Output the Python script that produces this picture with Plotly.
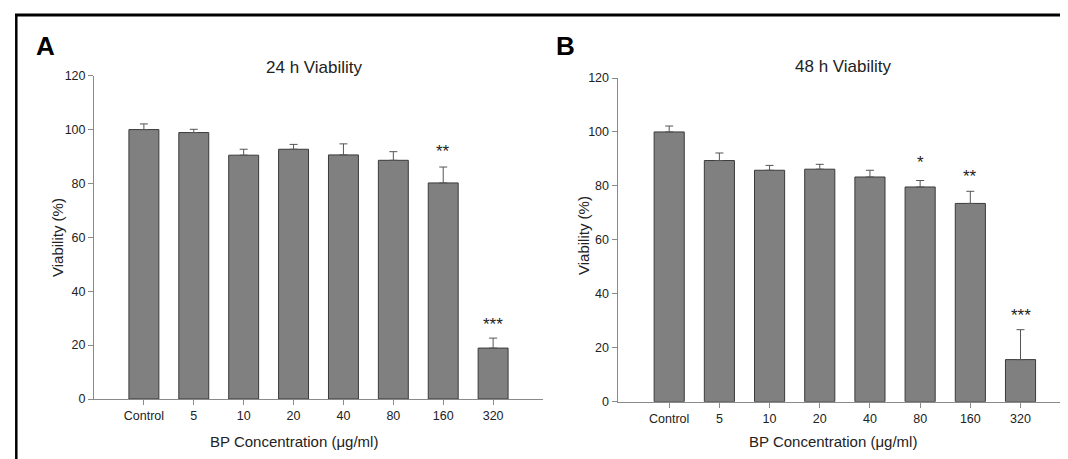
import plotly.graph_objects as go

# ---------------- data ----------------
categories = ["Control", "5", "10", "20", "40", "80", "160", "320"]

viab_24h = [100.0, 98.9, 90.5, 92.7, 90.6, 88.6, 80.2, 18.9]
err_24h = [2.1, 1.2, 2.2, 1.8, 4.1, 3.2, 5.9, 3.7]
stars_24h = ["", "", "", "", "", "", "**", "***"]
stars_24h_y = [None, None, None, None, None, None, 93.2, 29.2]

viab_48h = [100.0, 89.4, 85.8, 86.2, 83.3, 79.6, 73.5, 15.6]
err_48h = [2.2, 2.8, 1.8, 1.8, 2.5, 2.4, 4.5, 11.1]
stars_48h = ["", "", "", "", "", "*", "**", "***"]
stars_48h_y = [None, None, None, None, None, 90.3, 84.8, 33.5]

y_ticks = [0, 20, 40, 60, 80, 100, 120]
panel_titles = ["24 h Viability", "48 h Viability"]
panel_letters = ["A", "B"]
x_title = "BP Concentration (\u03bcg/ml)"
y_title = "Viability (%)"

# ---------------- figure ----------------
W, H = 1068, 459
FONT = "Liberation Sans, Arial, sans-serif"
BAR_FILL = "#808080"
BAR_LINE = "#3a3a3a"
AXIS_COL = "#8a8a8a"
TXT = "#222222"

fig = go.Figure()

def px_x(p):
    return p / W

def px_y(p):
    return 1 - p / H

panels = [
    dict(vals=viab_24h, errs=err_24h, stars=stars_24h, stars_y=stars_24h_y,
         xa="x", ya="y", xdom=[86, 535], ydom=[67.7, 391], xr=[-1.0, 8.0],
         title_x=306, title_y=60, xt_x=286, xt_y=433, yt_x=50, yt_y=230,
         let_x=37, let_y=38),
    dict(vals=viab_48h, errs=err_48h, stars=stars_48h, stars_y=stars_48h_y,
         xa="x2", ya="y2", xdom=[609.5, 1062.7], ydom=[70, 393.7], xr=[-1.03, 8.0],
         title_x=835, title_y=58, xt_x=825, xt_y=433, yt_x=575, yt_y=228,
         let_x=557, let_y=38),
]

annotations = []
for i, p in enumerate(panels):
    fig.add_trace(go.Bar(
        x=categories, y=p["vals"], xaxis=p["xa"], yaxis=p["ya"],
        width=0.6,
        marker=dict(color=BAR_FILL, line=dict(color=BAR_LINE, width=1)),
        error_y=dict(type="data", array=p["errs"], arrayminus=[0] * len(p["errs"]),
                     symmetric=False, color="#555555", thickness=1, width=4),
        showlegend=False, hoverinfo="x+y",
    ))
    ax_suffix = "" if i == 0 else "2"
    fig.update_layout(**{
        "xaxis" + ax_suffix: dict(
            domain=[px_x(p["xdom"][0]), px_x(p["xdom"][1])],
            anchor="y" + ax_suffix, type="category", range=p["xr"],
            showline=True, linecolor=AXIS_COL, linewidth=1,
            ticks="outside", ticklen=5, tickcolor=AXIS_COL, tickwidth=1,
            showgrid=False, zeroline=False,
            tickfont=dict(family=FONT, size=12.5, color=TXT),
            automargin=False, fixedrange=True,
        ),
        "yaxis" + ax_suffix: dict(
            domain=[px_y(p["ydom"][1]), px_y(p["ydom"][0])],
            anchor="x" + ax_suffix, range=[0, 120],
            tickvals=y_ticks,
            showline=True, linecolor=AXIS_COL, linewidth=1,
            ticks="outside", ticklen=5, tickcolor=AXIS_COL, tickwidth=1,
            showgrid=False, zeroline=False,
            tickfont=dict(family=FONT, size=12.5, color=TXT),
            automargin=False, fixedrange=True,
        ),
    })
    # stars (x given as category index)
    for idx, (s, sy) in enumerate(zip(p["stars"], p["stars_y"])):
        if s:
            annotations.append(dict(
                x=idx, y=sy, xref=p["xa"], yref=p["ya"], text=s, showarrow=False,
                xanchor="center", yanchor="middle", yshift=-4,
                font=dict(family=FONT, size=17, color=TXT),
            ))
    # title
    annotations.append(dict(
        x=px_x(p["title_x"]), y=px_y(p["title_y"]), xref="paper", yref="paper",
        text=panel_titles[i], showarrow=False, xanchor="center", yanchor="middle",
        font=dict(family=FONT, size=17, color=TXT),
    ))
    # x title
    annotations.append(dict(
        x=px_x(p["xt_x"]), y=px_y(p["xt_y"]), xref="paper", yref="paper",
        text=x_title, showarrow=False, xanchor="center", yanchor="middle",
        font=dict(family=FONT, size=15, color=TXT),
    ))
    # y title
    annotations.append(dict(
        x=px_x(p["yt_x"]), y=px_y(p["yt_y"]), xref="paper", yref="paper",
        text=y_title, showarrow=False, xanchor="center", yanchor="middle",
        textangle=-90, font=dict(family=FONT, size=15, color=TXT),
    ))
    # panel letter
    annotations.append(dict(
        x=px_x(p["let_x"]), y=px_y(p["let_y"]), xref="paper", yref="paper",
        text="<b>%s</b>" % panel_letters[i], showarrow=False,
        xanchor="center", yanchor="middle",
        font=dict(family=FONT, size=26, color="#000000"),
    ))

shapes = [
    dict(type="line", xref="paper", yref="paper",
         x0=px_x(7), x1=1.0, y0=px_y(7), y1=px_y(7),
         line=dict(color="#000000", width=3)),
    dict(type="line", xref="paper", yref="paper",
         x0=px_x(8.3), x1=px_x(8.3), y0=px_y(6), y1=0.0,
         line=dict(color="#000000", width=2.5)),
]

fig.update_layout(
    width=W, height=H,
    margin=dict(l=0, r=0, t=0, b=0),
    paper_bgcolor="white", plot_bgcolor="white",
    annotations=annotations, shapes=shapes,
    bargap=0.4, showlegend=False,
    font=dict(family=FONT, color=TXT),
)

fig.write_html("out.html")
